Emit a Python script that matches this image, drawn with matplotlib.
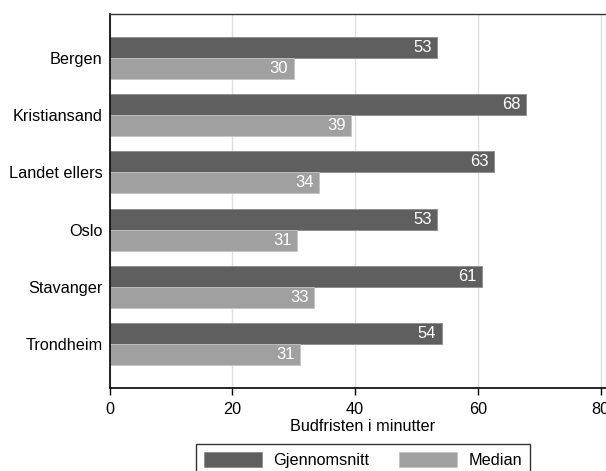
import matplotlib
matplotlib.use("Agg")
import matplotlib.pyplot as plt
import numpy as np

categories = ["Bergen", "Kristiansand", "Landet ellers", "Oslo", "Stavanger", "Trondheim"]
gjennomsnitt = [53.4, 67.9, 62.6, 53.4, 60.7, 54.1]
median = [30.0, 39.4, 34.2, 30.6, 33.3, 31.1]
gj_labels = ["53", "68", "63", "53", "61", "54"]
med_labels = ["30", "39", "34", "31", "33", "31"]
xticks = [0, 20, 40, 60, 80]

plt.rcParams['font.family'] = ['Liberation Sans', 'DejaVu Sans']

W, H = 606, 471
fig = plt.figure(figsize=(W / 100, H / 100), dpi=100)
x0, x1 = 109.5, 616.5
y0, y1 = 388, 14
ax = fig.add_axes([x0 / W, 1 - y0 / H, (x1 - x0) / W, (y0 - y1) / H])

dark = '#5f5f5f'
light = '#a0a0a0'
pos = np.arange(len(categories))
bh = 0.367
ax.barh(pos - bh / 2, gjennomsnitt, height=bh, color=dark, edgecolor='#8c8c8c', linewidth=0.6,
        label='Gjennomsnitt', zorder=2)
ax.barh(pos + bh / 2, median, height=bh, color=light, edgecolor='#c4c4c4', linewidth=0.6,
        label='Median', zorder=2)

for p, v, t in zip(pos, gjennomsnitt, gj_labels):
    ax.annotate(t, (v, p - bh / 2), xytext=(-4, 0), textcoords='offset points',
                ha='right', va='center', color='white', fontsize=12, zorder=3)
for p, v, t in zip(pos, median, med_labels):
    ax.annotate(t, (v, p + bh / 2), xytext=(-4, 0), textcoords='offset points',
                ha='right', va='center', color='white', fontsize=12, zorder=3)

ax.set_xlim(0, (x1 - x0) / 6.1375)
ax.set_ylim(len(categories) - 1 + 0.77, -0.77)
ax.set_yticks(pos)
ax.set_yticklabels(categories, fontsize=11.7)
ax.tick_params(axis='y', length=0, pad=5)
ax.set_xticks(xticks)
ax.set_xticklabels([str(t) for t in xticks], fontsize=11.7)
ax.tick_params(axis='x', length=5, width=1, color='black', pad=5)
ax.grid(axis='x', color='#dedede', linewidth=1, zorder=0)
ax.set_axisbelow(True)
ax.set_xlabel('Budfristen i minutter', fontsize=11.7, labelpad=1.5)

for s in ['left', 'bottom']:
    ax.spines[s].set_color('black')
    ax.spines[s].set_linewidth(1.2)
ax.spines['top'].set_color('#333333')
ax.spines['top'].set_linewidth(1.0)
ax.spines['right'].set_visible(False)

leg = fig.legend(loc='upper center', bbox_to_anchor=(363 / W, 1 - 444 / H), ncol=2,
                 fontsize=11.7, frameon=True, fancybox=False, edgecolor='black',
                 handlelength=3.6, handleheight=1.0, handletextpad=0.7, columnspacing=1.8,
                 borderpad=0.5, borderaxespad=0)
leg.get_frame().set_linewidth(1.0)

fig.savefig('out.png', dpi=100)
